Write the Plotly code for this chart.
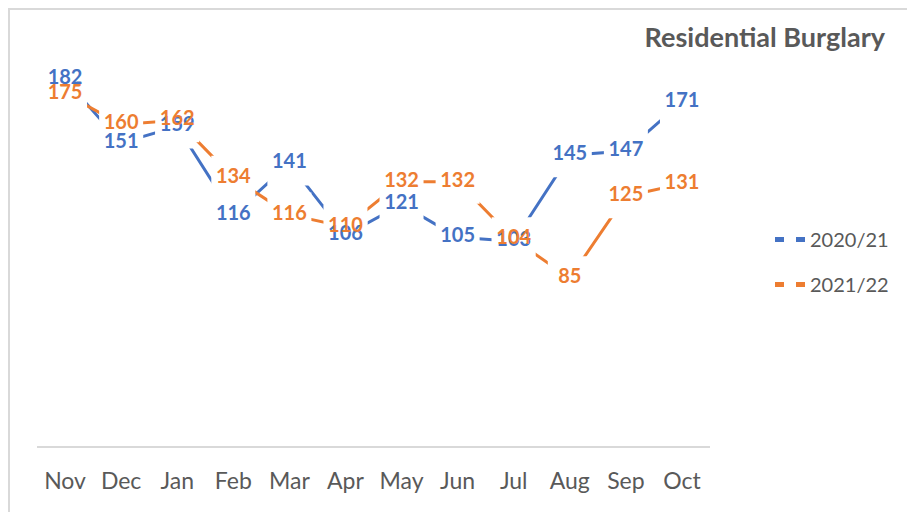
import plotly.graph_objects as go

months = ["Nov", "Dec", "Jan", "Feb", "Mar", "Apr", "May", "Jun", "Jul", "Aug", "Sep", "Oct"]
series_2020_21 = [182, 151, 159, 116, 141, 106, 121, 105, 103, 145, 147, 171]
series_2021_22 = [175, 160, 162, 134, 116, 110, 132, 132, 104, 85, 125, 131]
series_names = ["2020/21", "2021/22"]
colors = ["#4472C4", "#ED7D31"]
y_range = [3.1, 201.2]

FONT = "Lato"
GREY = "#595959"

fig = go.Figure()
for name, vals, col in zip(series_names, [series_2020_21, series_2021_22], colors):
    fig.add_trace(go.Scatter(
        x=months, y=vals, name=name, mode="lines+markers",
        line=dict(color=col, width=3),
        marker=dict(symbol="square", size=44, color="white", line=dict(width=0)),
        legendgroup=name, hoverinfo="skip", cliponaxis=False,
    ))
for name, vals, col in zip(series_names, [series_2020_21, series_2021_22], colors):
    fig.add_trace(go.Scatter(
        x=months, y=vals, mode="text", text=[str(v) for v in vals],
        textposition="middle center",
        textfont=dict(family=FONT, size=20, color=col, weight="bold"),
        showlegend=False, hoverinfo="skip", cliponaxis=False,
    ))

# page has an 8px body margin; figure coordinates = page coordinates - 8
OFF = 8
W, H = 907, 504
L, T = 37 - OFF, 40 - OFF
R = W - (710 - OFF)
B = H - (446 - OFF)
pw, ph = W - L - R, H - T - B

def px_x(p):
    return (p - OFF - L) / pw

def px_y(p):
    return (H - B - (p - OFF)) / ph

fig.update_layout(
    width=W, height=H,
    margin=dict(l=L, r=R, t=T, b=B, pad=0),
    paper_bgcolor="white", plot_bgcolor="white",
    font=dict(family=FONT, color=GREY),
    title=dict(text="<b>Residential Burglary</b>", font=dict(family=FONT, size=27, color=GREY),
               xref="container", x=(885 - OFF) / W, xanchor="right",
               yref="container", y=1 - (38 - OFF) / H, yanchor="middle"),
    xaxis=dict(showline=True, linecolor="#D9D9D9", linewidth=1.5, showgrid=False,
               range=[-0.5, 11.5], ticks="", ticklabelstandoff=14,
               tickfont=dict(family=FONT, size=23, color=GREY),
               zeroline=False, fixedrange=True),
    yaxis=dict(visible=False, range=y_range, showgrid=False, zeroline=False),
    legend=dict(x=px_x(770), xanchor="left", y=px_y(262), yanchor="middle",
                font=dict(family=FONT, size=20, color=GREY),
                itemsizing="constant", traceorder="grouped", tracegroupgap=16,
                bgcolor="rgba(0,0,0,0)"),
    showlegend=True,
    shapes=[
        dict(type="line", xref="paper", yref="paper", x0=px_x(9), x1=px_x(9),
             y0=px_y(9), y1=px_y(530), line=dict(color="#D9D9D9", width=2)),
        dict(type="line", xref="paper", yref="paper", x0=px_x(8), x1=px_x(930),
             y0=px_y(9), y1=px_y(9), line=dict(color="#D9D9D9", width=2)),
    ],
)

fig.write_html("out.html")
